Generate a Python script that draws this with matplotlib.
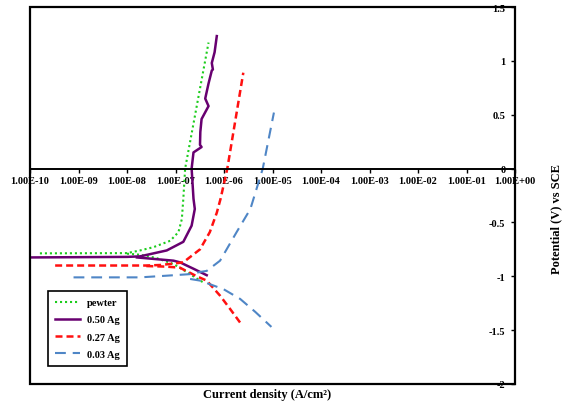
import matplotlib
matplotlib.use('Agg')
import matplotlib.pyplot as plt
from matplotlib.patches import Rectangle
from matplotlib.ticker import FixedLocator, FuncFormatter, NullLocator

plt.rcParams['font.family'] = ['Liberation Serif', 'DejaVu Serif']
plt.rcParams['font.weight'] = 'bold'

# Tafel curves: current density (A/cm2) and potential (V vs SCE)
# anodic branch runs from the far-left spike at Ecorr up; cathodic branch runs down-right
pewter_i_an = [1.6e-10, 1.0e-08, 1.86e-08, 3.5e-08, 7.8e-08, 1.15e-07, 1.35e-07, 1.45e-07,
               1.58e-07, 4.8e-07]
pewter_e_an = [-0.787, -0.785, -0.76, -0.73, -0.67, -0.59, -0.47, -0.28, 0.0, 1.17]
pewter_i_ca = [1.0e-08, 1.86e-08, 4.0e-08, 9.1e-08, 1.7e-07, 3.2e-07, 3.7e-07]
pewter_e_ca = [-0.79, -0.80, -0.83, -0.886, -0.96, -1.04, -1.055]

ag050_i_an = [1.0e-10, 1.0e-08, 1.86e-08, 6.6e-08, 1.45e-07, 2.15e-07, 2.5e-07, 2.35e-07,
              2.15e-07, 2.35e-07, 3.45e-07, 3.2e-07, 3.25e-07, 3.45e-07, 4.8e-07, 4.1e-07,
              4.8e-07, 5.6e-07, 5.9e-07, 5.6e-07, 6.4e-07, 7.1e-07]
ag050_e_an = [-0.825, -0.82, -0.815, -0.76, -0.68, -0.53, -0.375, -0.28, 0.0, 0.15, 0.20, 0.22,
              0.34, 0.46, 0.58, 0.65, 0.79, 0.91, 0.92, 0.98, 1.08, 1.23]
ag050_i_ca = [1.6e-08, 9.1e-08, 1.23e-07, 2.35e-07, 4.4e-07]
ag050_e_ca = [-0.825, -0.855, -0.87, -0.93, -0.99]

ag027_i_an = [3.3e-10, 2.5e-08, 5.0e-08, 1.0e-07, 1.45e-07, 3.2e-07, 5.1e-07, 7.1e-07,
              8.5e-07, 1.17e-06, 2.5e-06]
ag027_e_an = [-0.90, -0.90, -0.895, -0.88, -0.87, -0.75, -0.59, -0.41, -0.28, 0.0, 0.89]
ag027_i_ca = [2.5e-08, 6.3e-08, 1.23e-07, 2.75e-07, 4.4e-07, 8.3e-07, 1.32e-06, 2.15e-06]
ag027_e_ca = [-0.905, -0.91, -0.92, -1.0, -1.04, -1.18, -1.30, -1.43]

ag003_i_an = [7.9e-10, 1.86e-08, 6.3e-08, 2.0e-07, 3.2e-07, 4.4e-07, 8.3e-07, 1.82e-06,
              3.5e-06, 6.3e-06, 1.07e-05]
ag003_e_an = [-1.01, -1.01, -0.995, -0.98, -0.96, -0.95, -0.855, -0.59, -0.375, 0.0, 0.52]
ag003_i_ca = [2.0e-07, 3.2e-07, 9.8e-07, 2.15e-06, 4.4e-06, 9.5e-06]
ag003_e_ca = [-1.025, -1.04, -1.12, -1.21, -1.33, -1.47]

x_ticks = [1e-10, 1e-9, 1e-8, 1e-7, 1e-6, 1e-5, 1e-4, 1e-3, 1e-2, 1e-1, 1e0]
y_ticks = [-2, -1.5, -1, -0.5, 0, 0.5, 1, 1.5]

green = '#1ccc1c'
purple = '#680070'
red = '#ff1010'
blue = '#4f86c6'

fig = plt.figure(figsize=(5.63, 4.06), dpi=100)
ax = fig.add_axes([30 / 563, 21 / 406, 485 / 563, 377 / 406])

ax.plot(pewter_i_an, pewter_e_an, color=green, lw=1.5, ls=(0, (1, 1.4)), label='pewter')
ax.plot(pewter_i_ca, pewter_e_ca, color=green, lw=1.5, ls=(0, (1, 1.4)))
ax.plot(ag050_i_an, ag050_e_an, color=purple, lw=1.8, label='0.50 Ag')
ax.plot(ag050_i_ca, ag050_e_ca, color=purple, lw=1.8)
ax.plot(ag027_i_an, ag027_e_an, color=red, lw=1.8, ls=(0, (2.8, 1.6)), label='0.27 Ag')
ax.plot(ag027_i_ca, ag027_e_ca, color=red, lw=1.8, ls=(0, (2.8, 1.6)))
ax.plot(ag003_i_an, ag003_e_an, color=blue, lw=1.5, ls=(0, (5.2, 3.3)), label='0.03 Ag')
ax.plot(ag003_i_ca, ag003_e_ca, color=blue, lw=1.5, ls=(0, (5.2, 3.3)))

ax.set_xscale('log')
ax.set_xlim(1e-10, 1)
ax.set_ylim(-2, 1.5)

# x axis sits on E = 0, box drawn separately
for s in ['top', 'left']:
    ax.spines[s].set_visible(False)
ax.spines['bottom'].set_position(('data', 0))
ax.spines['bottom'].set_linewidth(1.4)
ax.spines['right'].set_linewidth(1.4)
ax.add_patch(Rectangle((0, 0), 1, 1, transform=ax.transAxes, fill=False,
                       lw=1.6, ec='black', clip_on=False, zorder=5))

ax.xaxis.set_major_locator(FixedLocator(x_ticks))
ax.xaxis.set_minor_locator(NullLocator())
ax.xaxis.set_major_formatter(FuncFormatter(lambda v, p: f'{v:.2E}'))
ax.tick_params(axis='x', direction='out', length=3, width=1, pad=2.5, labelsize=7.5)

ax.yaxis.tick_right()
ax.yaxis.set_major_locator(FixedLocator(y_ticks))
ax.yaxis.set_major_formatter(FuncFormatter(lambda v, p: f'{v:g}'))
ax.tick_params(axis='y', direction='in', length=3, width=1, pad=-7, labelsize=7.5)
for t in ax.get_yticklabels():
    t.set_horizontalalignment('right')

for t in ax.get_xticklabels() + ax.get_yticklabels():
    t.set_fontweight('bold')

leg = ax.legend(loc='lower left', bbox_to_anchor=(0.037, 0.048), fontsize=7.5,
                frameon=True, fancybox=False, edgecolor='black', framealpha=1,
                handlelength=2.4, handletextpad=0.65, labelspacing=0.75,
                borderpad=0.7, borderaxespad=0)
leg.get_frame().set_linewidth(1.2)
leg.set_zorder(6)
for t in leg.get_texts():
    t.set_fontweight('bold')

fig.text(267 / 563, 1 - 395 / 406, 'Current density (A/cm²)', ha='center', va='center',
         fontsize=9, fontweight='bold')
fig.text(556 / 563, 1 - 219 / 406, 'Potential (V) vs SCE', ha='center', va='center',
         rotation=90, fontsize=9, fontweight='bold')

fig.savefig('out.png', dpi=100)
